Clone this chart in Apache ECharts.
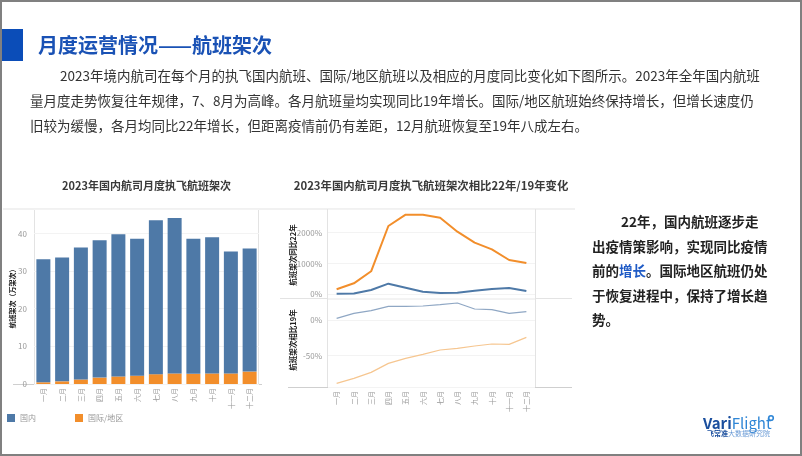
<!DOCTYPE html>
<html><head><meta charset="utf-8">
<script src="https://cdn.jsdelivr.net/npm/echarts@6/dist/echarts.min.js"></script>
<style>html,body{margin:0;padding:0;background:#fff}#c{width:802px;height:456px}</style>
</head><body><div id="c"></div>
<script>
const months = ['一月','二月','三月','四月','五月','六月','七月','八月','九月','十月','十一月','十二月'];
const domestic = [32.7,32.9,35.1,36.5,37.8,36.4,40.9,41.3,35.9,36.2,32.4,32.7];
const intl = [0.45,0.7,1.2,1.7,2.0,2.2,2.6,2.8,2.7,2.8,2.8,3.3];
const domVs22 = [15,25,140,345,215,85,40,50,118,172,205,107];
const intlVs22 = [162,357,747,2218,2585,2580,2488,2034,1676,1460,1114,1016];
const domVs19 = [2.3,9.3,13.1,19.1,19.1,19.6,21.5,23.8,15.4,14.5,9.3,11.7];
const intlVs19 = [-88.7,-81.7,-73.3,-60.7,-53.7,-48.1,-42,-39.7,-36.4,-33.6,-34.1,-24.3];
const legendNames = ['国内','国际/地区'];

const FF = '"Noto Sans CJK SC","Noto Sans",sans-serif';
const BLUE = '#4e79a7', ORANGE = '#f28e2b';
const chart = echarts.init(document.getElementById('c'), null, {renderer:'canvas'});

function txt(x,y,text,font,color,extra){
  return {type:'text',x:x,y:y,style:Object.assign({text:text,font:font,fill:color,textVerticalAlign:'middle'},extra||{})};
}
function line(x1,y1,x2,y2,c,w){return {type:'line',shape:{x1:x1,y1:y1,x2:x2,y2:y2},style:{stroke:c,lineWidth:w||1},z:-1};}

const P = '13.5px ' + FF;
const B = 'bold 13.5px ' + FF;
const graphics = [
  {type:'rect',shape:{x:1,y:1,width:800,height:454},style:{fill:'none',stroke:'#808080',lineWidth:2},z:10},
  {type:'rect',shape:{x:0,y:29,width:23,height:32},style:{fill:'#0b4db8'}},
  txt(38,45,'月度运营情况——航班架次','bold 20px '+FF,'#1a52b5'),
  txt(60,76,'2023年境内航司在每个月的执飞国内航班、国际/地区航班以及相应的月度同比变化如下图所示。2023年全年国内航班',P,'#333'),
  txt(30,101,'量月度走势恢复往年规律，7、8月为高峰。各月航班量均实现同比19年增长。国际/地区航班始终保持增长，但增长速度仍',P,'#333'),
  txt(30,126,'旧较为缓慢，各月均同比22年增长，但距离疫情前仍有差距，12月航班恢复至19年八成左右。',P,'#333'),
  // right text block
  txt(621,222,'22年，国内航班逐步走',B,'#222'),
  txt(592,246.5,'出疫情策影响，实现同比疫情',B,'#222'),
  {type:'text',x:592,y:271,style:{rich:{a:{font:B,fill:'#222'},b:{font:B,fill:'#1f5bc6'}},text:'{a|前的}{b|增长}{a|。国际地区航班仍处}',textVerticalAlign:'middle'}},
  txt(592,295.5,'于恢复进程中，保持了增长趋',B,'#222'),
  txt(592,320,'势。',B,'#222'),
  // chart titles
  txt(146.5,186,'2023年国内航司月度执飞航班架次','bold 11px '+FF,'#3a3a3a',{textAlign:'center'}),
  txt(431,186,'2023年国内航司月度执飞航班架次相比22年/19年变化','bold 11.4px '+FF,'#3a3a3a',{textAlign:'center'}),
  // frame lines
  line(3,209,575,209,'#e3e3e3'),
  line(34.5,209,34.5,384,'#e3e3e3'),
  line(258.5,209,258.5,384,'#e3e3e3'),
  line(13,384.5,262,384.5,'#cfcfcf'),
  line(327.5,209,327.5,387,'#e3e3e3'),
  line(535.5,209,535.5,387,'#e3e3e3'),
  line(280,298.5,572,298.5,'#e3e3e3'),
  line(288,387.5,572,387.5,'#cfcfcf'),
  // axis titles
  {type:'text',x:12,y:297,rotation:Math.PI/2,style:{text:'航班架次（万架次）',font:'bold 7px '+FF,fill:'#222',textAlign:'center',textVerticalAlign:'middle'}},
  {type:'text',x:293,y:255,rotation:Math.PI/2,style:{text:'航班架次同比22年',font:'bold 7.5px '+FF,fill:'#222',textAlign:'center',textVerticalAlign:'middle'}},
  {type:'text',x:293,y:340,rotation:Math.PI/2,style:{text:'航班架次相比19年',font:'bold 7.5px '+FF,fill:'#222',textAlign:'center',textVerticalAlign:'middle'}},
  // logo
  {type:'text',x:703,y:423,style:{rich:{a:{font:'bold 15px '+FF,fill:'#1b4f9e'},b:{font:'15px '+FF,fill:'#2f86d6'}},text:'{a|Vari}{b|Flight}',textVerticalAlign:'middle'}},
  {type:'circle',shape:{cx:771,cy:418,r:2.3},style:{fill:'#fff',stroke:'#2f86d6',lineWidth:1.6}},
  {type:'text',x:707,y:433,style:{rich:{a:{font:'bold 7px '+FF,fill:'#1b4f9e'},b:{font:'7px '+FF,fill:'#6a9bd6'}},text:'{a|飞常准}{b|大数据研究院}',textVerticalAlign:'middle'}}
];

const axisLabelStyle = {color:'#999',fontSize:8,fontFamily:FF};
const xLabel = {show:true,rotate:90,color:'#999',fontSize:7,fontFamily:FF,margin:4,interval:0};

const option = {
  animation:false,
  textStyle:{fontFamily:FF},
  legend:{data:legendNames,left:7,top:414,itemWidth:8,itemHeight:8,itemGap:39,icon:'rect',
    textStyle:{color:'#999',fontSize:8,fontFamily:FF},padding:0},
  grid:[
    {left:34,top:209,width:225,height:175},
    {left:328,top:209,width:207,height:89},
    {left:328,top:299,width:207,height:88}
  ],
  xAxis:[
    {type:'category',gridIndex:0,data:months,axisLine:{show:false},axisTick:{show:false},axisLabel:xLabel},
    {type:'category',gridIndex:1,data:months,axisLine:{show:false},axisTick:{show:false},axisLabel:{show:false}},
    {type:'category',gridIndex:2,data:months,axisLine:{show:false},axisTick:{show:false},axisLabel:xLabel}
  ],
  yAxis:[
    {type:'value',gridIndex:0,min:0,max:46.5,splitNumber:4,axisLine:{show:false},axisTick:{show:false},
      splitLine:{show:true,lineStyle:{color:'#f3f3f3'}},
      axisLabel:Object.assign({margin:7,formatter:v=>(Math.abs(v%10)<1e-6?String(v):'')},axisLabelStyle)},
    {type:'value',gridIndex:1,min:-120,max:2770,splitNumber:3,axisLine:{show:false},axisTick:{show:false},
      splitLine:{show:true,lineStyle:{color:'#f3f3f3'}},
      axisLabel:Object.assign({margin:6,formatter:v=>(Math.abs(v%1000)<1e-6?v+'%':'')},axisLabelStyle)},
    {type:'value',gridIndex:2,min:-93.8,max:29.4,splitNumber:3,axisLine:{show:false},axisTick:{show:false},
      splitLine:{show:true,lineStyle:{color:'#f3f3f3'}},
      axisLabel:Object.assign({margin:6,formatter:v=>(Math.abs(v%50)<1e-6?Math.round(v)+'%':'')},axisLabelStyle)}
  ],
  series:[
    {name:'国际/地区',type:'bar',stack:'t',xAxisIndex:0,yAxisIndex:0,data:intl,barWidth:14,itemStyle:{color:ORANGE}},
    {name:'国内',type:'bar',stack:'t',xAxisIndex:0,yAxisIndex:0,data:domestic,barWidth:14,itemStyle:{color:BLUE}},
    {name:'国内同比22',type:'line',xAxisIndex:1,yAxisIndex:1,data:domVs22,symbol:'none',lineStyle:{color:BLUE,width:2}},
    {name:'国际同比22',type:'line',xAxisIndex:1,yAxisIndex:1,data:intlVs22,symbol:'none',lineStyle:{color:ORANGE,width:2}},
    {name:'国内相比19',type:'line',xAxisIndex:2,yAxisIndex:2,data:domVs19,symbol:'none',lineStyle:{color:'#8fa7c4',width:1.2}},
    {name:'国际相比19',type:'line',xAxisIndex:2,yAxisIndex:2,data:intlVs19,symbol:'none',lineStyle:{color:'#f6c690',width:1.2}}
  ],
  graphic:graphics
};
chart.setOption(option);
</script></body></html>
